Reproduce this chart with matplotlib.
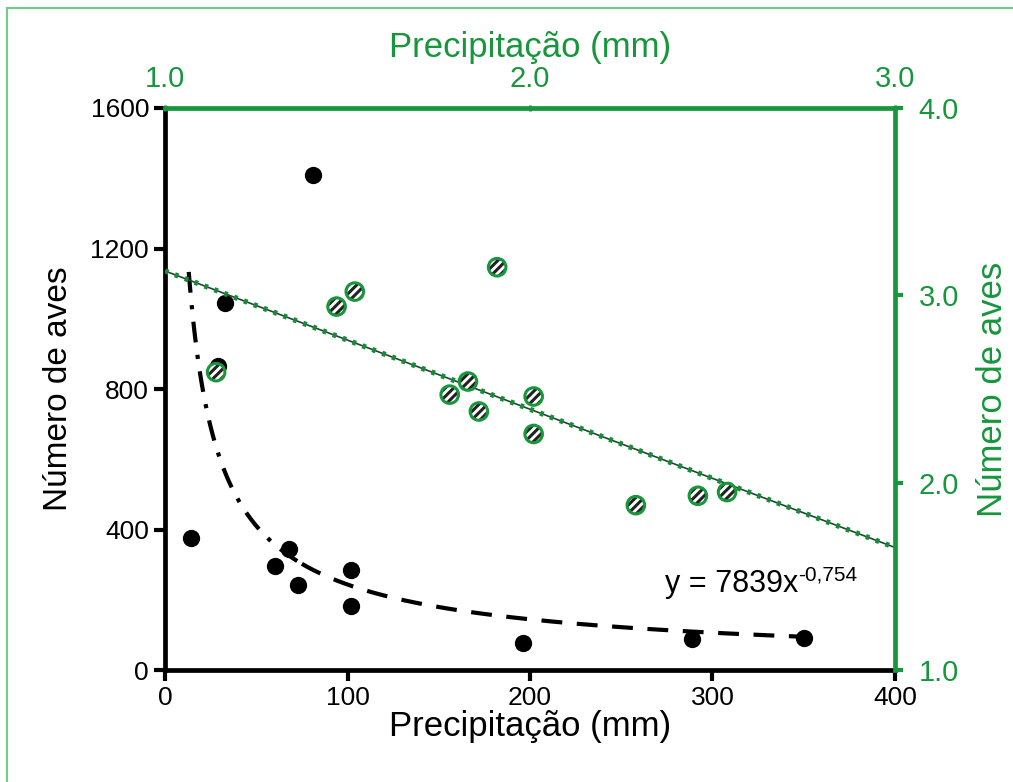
import numpy as np
import matplotlib
matplotlib.use('Agg')
import matplotlib.pyplot as plt
from matplotlib.lines import Line2D

plt.rcParams['font.family'] = ['Liberation Sans', 'DejaVu Sans']
plt.rcParams['hatch.linewidth'] = 2.2

# dados - eixo preto (inferior / esquerdo)
prec_preto = [14, 29, 33, 81, 60, 68, 73, 102, 102, 196, 289, 350]
aves_preto = [376, 866, 1045, 1408, 295, 345, 242, 285, 182, 77, 88, 91]

# dados - eixo verde (superior / direito)
prec_verde = [1.14, 1.47, 1.52, 1.91, 1.78, 1.83, 1.86, 2.01, 2.01, 2.29, 2.46, 2.54]
aves_verde = [2.59, 2.94, 3.02, 3.15, 2.47, 2.54, 2.38, 2.46, 2.26, 1.88, 1.93, 1.95]

# linhas de tendencia
pot_a, pot_b = 7839, -0.754
lin_a, lin_b = 3.868, -0.738

x_ticks = [0, 100, 200, 300, 400]
y_ticks = [0, 400, 800, 1200, 1600]
x2_ticks = [1.0, 2.0, 3.0]
y2_ticks = [1.0, 2.0, 3.0, 4.0]

verde = '#17963c'
verde_claro = '#6fcf8a'

fig = plt.figure(figsize=(10.13, 7.82), dpi=100)
pos = [0.1629, 0.1432, 0.7206, 0.7187]
ax = fig.add_axes(pos)

# moldura
fig.add_artist(Line2D([0.007, 0.007], [0, 0.99], color=verde_claro, lw=1.5, transform=fig.transFigure))
fig.add_artist(Line2D([0.007, 1.0], [0.99, 0.99], color=verde_claro, lw=1.5, transform=fig.transFigure))

ax.scatter(prec_preto, aves_preto, s=155, color='black', zorder=3, linewidths=0)

xx = np.linspace(13, 75, 100)
ax.plot(xx, pot_a * xx ** pot_b, color='black', lw=3, ls=(0, (5, 3, 1, 3)), zorder=2)
xx = np.linspace(75, 350, 200)
ax.plot(xx, pot_a * xx ** pot_b, color='black', lw=3, ls=(0, (5, 3.5)), zorder=2)

t = ax.text(274, 222, 'y = 7839x', fontsize=22)
ax.annotate('-0,754', xy=(1.0, 1.12), xycoords=t, ha='left', va='top', fontsize=15)

ax.set_xlim(0, 400)
ax.set_ylim(0, 1600)
ax.set_xticks(x_ticks)
ax.set_yticks(y_ticks)
ax.tick_params(labelsize=19, width=3, length=8, direction='out', colors='black')
ax.set_xlabel('Precipitação (mm)', fontsize=25, labelpad=0)
ax.set_ylabel('Número de aves', fontsize=24, labelpad=12)
for s in ['left', 'bottom']:
    ax.spines[s].set_linewidth(3.4)
for s in ['top', 'right']:
    ax.spines[s].set_visible(False)

# eixo verde
ax2 = fig.add_axes(pos, facecolor='none')
ax2.xaxis.tick_top()
ax2.xaxis.set_label_position('top')
ax2.yaxis.tick_right()
ax2.yaxis.set_label_position('right')
for s in ['left', 'bottom']:
    ax2.spines[s].set_visible(False)
for s in ['top', 'right']:
    ax2.spines[s].set_color(verde)
    ax2.spines[s].set_linewidth(3.4)

xl = np.array([1.0, 3.0])
ax2.plot(xl, lin_a + lin_b * xl, color='#1d4a2a', lw=1.2, zorder=2)
ax2.plot(xl, lin_a + lin_b * xl, color='#1a8a3a', lw=3.8, ls=(0, (0.7, 1.3)), zorder=2)

ax2.scatter(prec_verde, aves_verde, s=160, facecolor='white', edgecolor='#222222',
            hatch='////', linewidths=0, zorder=3)
ax2.scatter(prec_verde, aves_verde, s=160, facecolor='none', edgecolor=verde,
            linewidths=2.2, zorder=4)

ax2.set_xlim(1.0, 3.0)
ax2.set_ylim(1.0, 4.0)
ax2.set_xticks(x2_ticks)
ax2.set_yticks(y2_ticks)
ax2.set_xticklabels([f'{v:.1f}' for v in x2_ticks])
ax2.set_yticklabels([f'{v:.1f}' for v in y2_ticks])
ax2.tick_params(axis='x', labelsize=21, width=2, length=5, direction='inout', colors=verde, pad=8)
ax2.tick_params(axis='y', labelsize=21, width=3, length=6, direction='out', colors=verde, pad=11)
ax2.set_xlabel('Precipitação (mm)', fontsize=25, color=verde, labelpad=6)
ax2.set_ylabel('Número de aves', fontsize=25, color=verde, labelpad=12)

fig.savefig('out.png', dpi=100)
